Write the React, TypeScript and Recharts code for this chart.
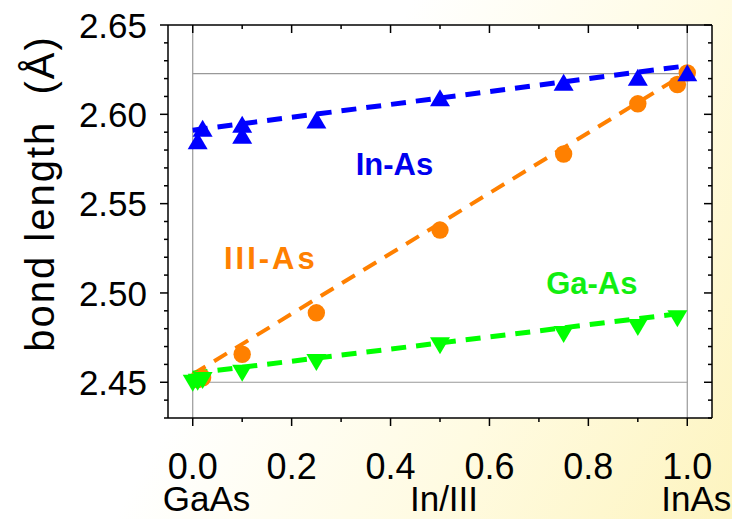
import {
  ComposedChart,
  Scatter,
  XAxis,
  YAxis,
  CartesianGrid,
  ReferenceLine,
  ReferenceDot,
  Label,
} from 'recharts';

// In-As (blue, up triangles)
const inAsX = [0.01, 0.02, 0.1, 0.1, 0.25, 0.5, 0.75, 0.9, 1.0];
const inAsY = [2.5852, 2.5922, 2.5944, 2.5883, 2.5968, 2.6093, 2.618, 2.6208, 2.6233];
// III-As (orange, circles)
const iiiAsX = [0.01, 0.02, 0.1, 0.25, 0.5, 0.75, 0.9, 0.98, 1.0];
const iiiAsY = [2.4515, 2.4525, 2.4657, 2.4889, 2.5352, 2.5778, 2.6059, 2.6167, 2.6232];
// Ga-As (green, down triangles)
const gaAsX = [0, 0.01, 0.02, 0.1, 0.25, 0.5, 0.75, 0.9, 0.98];
const gaAsY = [2.4495, 2.45, 2.451, 2.455, 2.4611, 2.4704, 2.4768, 2.4806, 2.4856];

// linear fits, ends at x = 0 and x = 1
const fitX = [0, 1];
const inAsFit = [2.5911, 2.6272];
const iiiAsFit = [2.4545, 2.6235];
const gaAsFit = [2.455, 2.489];

// in-plot labels
const seriesNames = ['In-As', 'III-As', 'Ga-As'];
const labelX = [0.408, 0.158, 0.807];
const labelY = [2.5722, 2.5194, 2.5056];

const xMajor = [0, 0.2, 0.4, 0.6, 0.8, 1.0];
const xMinor = [0.1, 0.3, 0.5, 0.7, 0.9];
const yMajor = [2.45, 2.5, 2.55, 2.6, 2.65];
const yMinor = [2.43, 2.44, 2.46, 2.47, 2.48, 2.49, 2.51, 2.52, 2.53, 2.54, 2.56, 2.57, 2.58, 2.59, 2.61, 2.62, 2.63, 2.64];
const nameTicks = [0, 0.5, 1];
const nameLabels = ['GaAs', 'In/III', 'InAs'];

const refX = [0, 1];
const refY = [2.45, 2.6228];

const BLUE = '#0000ff';
const ORANGE = '#ff8000';
const GREEN = '#00ff00';
const colors = [BLUE, ORANGE, GREEN];
const textColors = ['#0000ee', '#ff8000', '#11ee11'];
const labelSpacing = [0, 3, 0];
const FONT = '"Liberation Sans", Arial, sans-serif';

const toPts = (xs: number[], ys: number[]) => xs.map((x, i) => ({ x, y: ys[i] }));

const xTicks = [...xMajor, ...xMinor].sort((a, b) => a - b);
const yTicks = [...yMajor, ...yMinor].sort((a, b) => a - b);

const TriUp = (p: any) => (
  <polygon
    points={`${p.cx},${p.cy - 8.5} ${p.cx - 10},${p.cy + 8.5} ${p.cx + 10},${p.cy + 8.5}`}
    fill={BLUE}
  />
);
const TriDown = (p: any) => (
  <polygon
    points={`${p.cx},${p.cy + 8.5} ${p.cx - 10},${p.cy - 8.5} ${p.cx + 10},${p.cy - 8.5}`}
    fill={GREEN}
  />
);
const Dot = (p: any) => <circle cx={p.cx} cy={p.cy} r={8.7} fill={ORANGE} />;
const NoShape = () => <g />;

const BottomTick = (p: any) => {
  const major = xMajor.includes(p.payload.value);
  return (
    <g>
      <line x1={p.x} y1={p.y} x2={p.x} y2={p.y + (major ? 8 : 4)} stroke="#000" strokeWidth={1.5} />
      {major && (
        <text x={p.x} y={p.y + 61} textAnchor="middle" fontSize={36} fontFamily={FONT} fill="#000">
          {p.payload.value.toFixed(1)}
        </text>
      )}
    </g>
  );
};

const TopTick = (p: any) => {
  const major = xMajor.includes(p.payload.value);
  return <line x1={p.x} y1={p.y} x2={p.x} y2={p.y + (major ? 8 : 4)} stroke="#000" strokeWidth={1.5} />;
};

const LeftTick = (p: any) => {
  const major = yMajor.includes(p.payload.value);
  return (
    <g>
      <line x1={p.x} y1={p.y} x2={p.x - (major ? 8 : 4)} y2={p.y} stroke="#000" strokeWidth={1.5} />
      {major && (
        <text x={p.x - 21} y={p.y} dy="0.36em" textAnchor="end" fontSize={35} fontFamily={FONT} fill="#000">
          {p.payload.value.toFixed(2)}
        </text>
      )}
    </g>
  );
};

const RightTick = (p: any) => {
  const major = yMajor.includes(p.payload.value);
  return <line x1={p.x} y1={p.y} x2={p.x - (major ? 8 : 4)} y2={p.y} stroke="#000" strokeWidth={1.5} />;
};

const anchors = ['start', 'middle', 'end'];
const nameShift = [-30, 4, 44];
const NameTick = (p: any) => {
  const i = nameTicks.indexOf(p.payload.value);
  return (
    <text
      x={p.x + nameShift[i]}
      y={p.y + 33}
      textAnchor={anchors[i] as any}
      fontSize={35}
      fontFamily={FONT}
      fill="#000"
    >
      {nameLabels[i]}
    </text>
  );
};

const YTitle = (p: any) => {
  const vb = p.viewBox;
  const cx = vb.x + 40;
  const cy = vb.y + vb.height / 2 - 28;
  return (
    <text
      x={cx}
      y={cy}
      transform={`rotate(-90 ${cx} ${cy})`}
      textAnchor="middle"
      dy="0.36em"
      fontSize={40}
      letterSpacing={2}
      fontFamily={FONT}
      fill="#000"
      style={{ whiteSpace: 'pre' }}
    >
      {'bond length  (Å)'}
    </text>
  );
};

const makeSeriesLabel = (i: number) => (p: any) => {
  const vb = p.viewBox;
  const cx = vb.x + (vb.width || 0) / 2;
  const cy = vb.y + (vb.height || 0) / 2;
  return (
    <text
      x={cx}
      y={cy}
      dy="0.36em"
      textAnchor="middle"
      fontSize={31}
      fontWeight="bold"
      fontFamily={FONT}
      letterSpacing={labelSpacing[i]}
      fill={textColors[i]}
    >
      {seriesNames[i]}
    </text>
  );
};

const axisLine = { stroke: '#000', strokeWidth: 1.5 };

export default function App() {
  const fits = [inAsFit, iiiAsFit, gaAsFit];
  return (
    <div
      style={{
        position: 'absolute',
        left: 0,
        top: 0,
        width: 732,
        height: 519,
        background: 'linear-gradient(120deg, #ffffff 40%, #fffbe2 70%, #fdf4bf 100%)',
      }}
    >
      <ComposedChart width={732} height={519} margin={{ top: 0, right: 0, bottom: 0, left: 0 }}>
        <CartesianGrid horizontal={false} vertical={false} fill="#ffffff" />
        <XAxis
          dataKey="x"
          type="number"
          domain={[-0.05, 1.05]}
          allowDataOverflow
          ticks={xTicks}
          interval={0}
          tick={BottomTick}
          tickLine={false}
          tickSize={0}
          tickMargin={0}
          axisLine={axisLine}
          height={60}
        />
        <XAxis
          xAxisId="names"
          dataKey="x"
          type="number"
          domain={[-0.05, 1.05]}
          allowDataOverflow
          ticks={nameTicks}
          interval={0}
          tick={NameTick}
          tickLine={false}
          tickSize={0}
          tickMargin={0}
          axisLine={false}
          height={41}
        />
        <XAxis
          xAxisId="top"
          orientation="top"
          dataKey="x"
          type="number"
          domain={[-0.05, 1.05]}
          allowDataOverflow
          ticks={xTicks}
          interval={0}
          tick={TopTick}
          tickLine={false}
          tickSize={0}
          tickMargin={0}
          axisLine={axisLine}
          height={25}
        />
        <YAxis
          dataKey="y"
          type="number"
          domain={[2.43, 2.65]}
          allowDataOverflow
          ticks={yTicks}
          interval={0}
          tick={LeftTick}
          tickLine={false}
          tickSize={0}
          tickMargin={0}
          axisLine={axisLine}
          width={168}
        >
          <Label content={YTitle} />
        </YAxis>
        <YAxis
          yAxisId="right"
          orientation="right"
          dataKey="y"
          type="number"
          domain={[2.43, 2.65]}
          allowDataOverflow
          ticks={yTicks}
          interval={0}
          tick={RightTick}
          tickLine={false}
          tickSize={0}
          tickMargin={0}
          axisLine={axisLine}
          width={20}
        />

        {refX.map((x) => (
          <ReferenceLine key={'rx' + x} x={x} stroke="#999999" strokeWidth={1.2} />
        ))}
        {refY.map((y) => (
          <ReferenceLine
            key={'ry' + y}
            segment={[
              { x: refX[0], y },
              { x: refX[1], y },
            ]}
            stroke="#999999"
            strokeWidth={1.2}
          />
        ))}

        {fits.map((f, i) => (
          <Scatter
            key={'fit' + i}
            data={toPts(fitX, f)}
            fill={colors[i]}
            shape={NoShape}
            line={{ stroke: colors[i], strokeWidth: i === 1 ? 4 : 5, strokeDasharray: '15 10' }}
            isAnimationActive={false}
            legendType="none"
          />
        ))}

        <Scatter data={toPts(iiiAsX, iiiAsY)} fill={ORANGE} shape={Dot} isAnimationActive={false} />
        <Scatter data={toPts(gaAsX, gaAsY)} fill={GREEN} shape={TriDown} isAnimationActive={false} />
        <Scatter data={toPts(inAsX, inAsY)} fill={BLUE} shape={TriUp} isAnimationActive={false} />

        {seriesNames.map((name, i) => (
          <ReferenceDot
            key={name}
            x={labelX[i]}
            y={labelY[i]}
            r={1}
            fill="none"
            stroke="none"
            label={{ content: makeSeriesLabel(i) }}
          />
        ))}
      </ComposedChart>
    </div>
  );
}
